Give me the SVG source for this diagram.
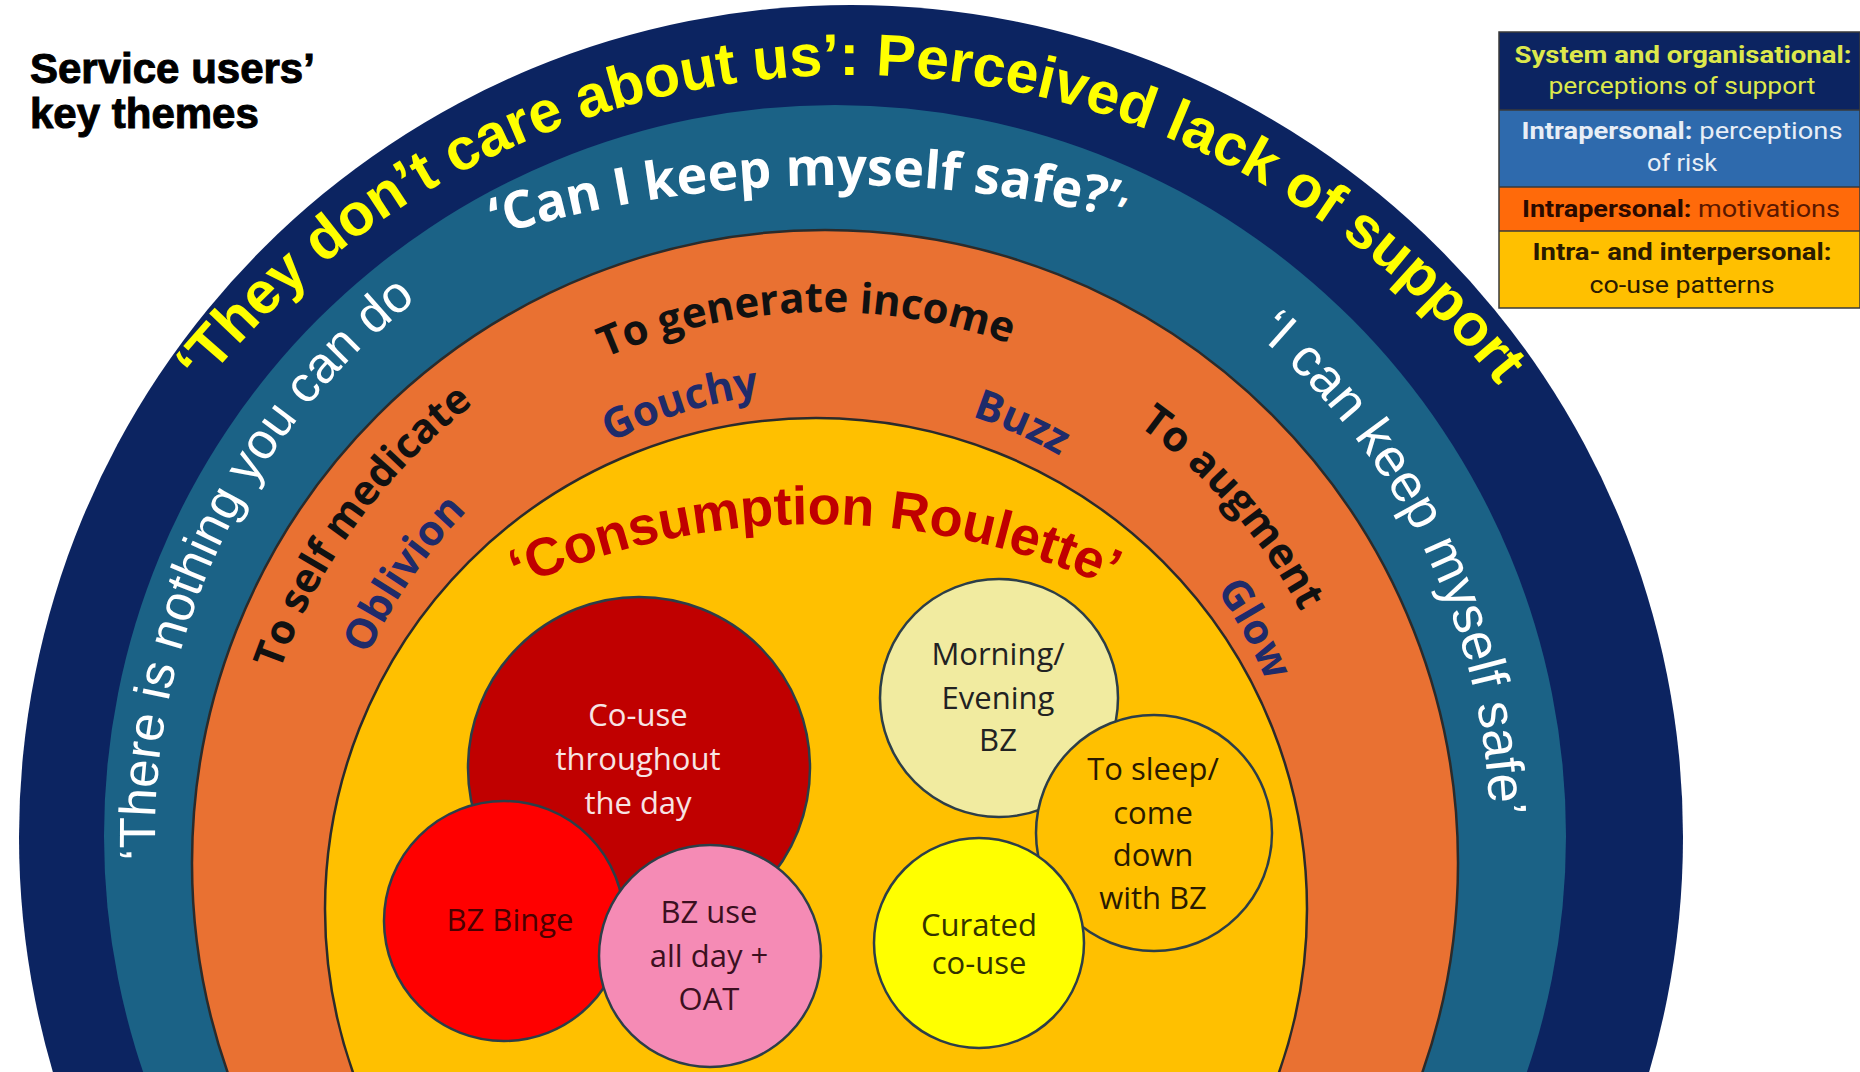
<svg xmlns="http://www.w3.org/2000/svg" width="1860" height="1072" viewBox="0 0 1860 1072">
<style>
.ring-line{stroke:#2b2b2b;stroke-width:2.5}
.node{stroke:#2c3e48;stroke-width:2.5}
.yel{font-family:"Liberation Sans",Arial,sans-serif;font-weight:700;fill:#FFFF00}
.wht{font-family:"Liberation Sans",Arial,sans-serif;fill:#ffffff}
.wsb{font-family:"Open Sans","Noto Sans",sans-serif;font-weight:700;fill:#ffffff}
.mot{font-family:"Open Sans","Noto Sans",sans-serif;font-weight:700;fill:#111111}
.nav{font-family:"Open Sans","Noto Sans",sans-serif;font-weight:700;fill:#1f2b6a}
.cr{font-family:"Liberation Sans",Arial,sans-serif;font-weight:700;fill:#C00000}
.ct{font-family:"Open Sans","Noto Sans",sans-serif;font-size:31px;text-anchor:middle}
.leg{font-family:"Roboto","Liberation Sans",sans-serif;font-size:23px;text-anchor:middle}
.b{font-weight:700}
</style>
<defs>
<path id="pOuter" d="M132.2,490 A830,830 0 0,1 1569.8,490"/>
<path id="pCan" d="M213,361.9 A1200,1200 0 0,1 1412.6,330.4"/>
<path id="pNothing" d="M155.4,859.7 A680,680 0 0,1 602.4,197.0"/>
<path id="pICan" d="M1256.0,334.3 A655,655 0 0,1 1480.1,949.7"/>
<path id="pIncome" d="M338.5,604.3 A551,551 0 0,1 1292.3,571.0"/>
<path id="pGouchy" d="M364.2,760.8 A472,472 0 0,1 1143.9,515.0"/>
<path id="pBuzz" d="M549.4,482.3 A470,470 0 0,1 1292.5,814.7"/>
<path id="pAugment" d="M721.4,335.1 A538,538 0 0,1 1334.0,1037.3"/>
<path id="pGlow" d="M836.7,386.1 A477,477 0 0,1 1232.2,1111.5"/>
<path id="pMedicate" d="M297.0,1098.1 A578,578 0 0,1 885.4,288.2"/>
<path id="pOblivion" d="M371.9,1079.1 A502,502 0 0,1 864.4,362.6"/>
<path id="pRoulette" d="M191.5,884 A720,720 0 0,1 1438.5,884"/>
</defs>
<rect width="1860" height="1072" fill="#ffffff"/>

<g id="title">
<text x="30" y="83" font-family="Liberation Sans,Arial,sans-serif" font-weight="700" font-size="42" fill="#000" stroke="#000" stroke-width="1">Service users’</text>
<text x="30" y="128" font-family="Liberation Sans,Arial,sans-serif" font-weight="700" font-size="42" fill="#000" stroke="#000" stroke-width="1">key themes</text>
</g>

<g id="ring-system">
<circle cx="851" cy="837" r="832" fill="#0c2461"/>
<text class="yel" font-size="59"><textPath href="#pOuter" startOffset="50%" text-anchor="middle">‘They don’t care about us’: Perceived lack of support</textPath></text>
</g>

<g id="ring-risk">
<circle cx="835" cy="836" r="731" fill="#1b6286"/>
<text class="wsb" font-size="52"><textPath href="#pCan" startOffset="50%" text-anchor="middle">‘Can I keep myself safe?’<tspan font-size="40" dy="8">’</tspan></textPath></text>
<text class="wht" font-size="51"><textPath href="#pNothing" startOffset="0">‘There is nothing you can do</textPath></text>
<text class="wht" font-size="53"><textPath href="#pICan" startOffset="0">‘I can keep myself safe’</textPath></text>
</g>

<g id="ring-motivations">
<circle class="ring-line" cx="825" cy="863" r="633" fill="#E97132"/>
<text class="mot" font-size="42"><textPath href="#pIncome" startOffset="50%" text-anchor="middle">To generate income</textPath></text>
<text class="mot" font-size="41"><textPath href="#pMedicate" startOffset="50%" text-anchor="middle">To self medicate</textPath></text>
<text class="mot" font-size="42"><textPath href="#pAugment" startOffset="50%" text-anchor="middle">To augment</textPath></text>
<text class="nav" font-size="42"><textPath href="#pGouchy" startOffset="50%" text-anchor="middle">Gouchy</textPath></text>
<text class="nav" font-size="42"><textPath href="#pBuzz" startOffset="50%" text-anchor="middle">Buzz</textPath></text>
<text class="nav" font-size="42"><textPath href="#pOblivion" startOffset="50%" text-anchor="middle">Oblivion</textPath></text>
<text class="nav" font-size="42"><textPath href="#pGlow" startOffset="50%" text-anchor="middle">Glow</textPath></text>
</g>

<g id="ring-couse">
<circle class="ring-line" cx="816" cy="909" r="491" fill="#FFC000"/>
<text class="cr" font-size="54"><textPath href="#pRoulette" startOffset="50%" text-anchor="middle">‘Consumption Roulette’</textPath></text>
</g>

<g id="node-couse-day">
<circle class="node" cx="639" cy="768" r="171" fill="#C00000"/>
<text class="ct" fill="#f7e4e4"><tspan x="638" y="726">Co-use</tspan><tspan x="638" y="770">throughout</tspan><tspan x="638" y="814">the day</tspan></text>
</g>
<g id="node-bz-binge">
<circle class="node" cx="504" cy="921" r="120" fill="#FF0000"/>
<text class="ct" fill="#4a0000" x="510" y="931">BZ Binge</text>
</g>
<g id="node-bz-oat">
<circle class="node" cx="710" cy="956" r="111" fill="#F58BB5"/>
<text class="ct" fill="#3b1020"><tspan x="709" y="923">BZ use</tspan><tspan x="709" y="967">all day +</tspan><tspan x="709" y="1010">OAT</tspan></text>
</g>
<g id="node-morning">
<circle class="node" cx="999" cy="698" r="119" fill="#F1EBA0"/>
<text class="ct" fill="#222222"><tspan x="998" y="665">Morning/</tspan><tspan x="998" y="709">Evening</tspan><tspan x="998" y="751">BZ</tspan></text>
</g>
<g id="node-sleep">
<circle class="node" cx="1154" cy="833" r="118" fill="#FFC000"/>
<text class="ct" fill="#2a1a00"><tspan x="1153" y="780">To sleep/</tspan><tspan x="1153" y="824">come</tspan><tspan x="1153" y="866">down</tspan><tspan x="1153" y="909">with BZ</tspan></text>
</g>
<g id="node-curated">
<circle class="node" cx="979" cy="943" r="105" fill="#FFFF00"/>
<text class="ct" fill="#333300"><tspan x="979" y="936">Curated</tspan><tspan x="979" y="974">co-use</tspan></text>
</g>

<g id="connectors"/>

<g id="legend">
<rect x="1499" y="32" width="361" height="78" fill="#0c2461"/>
<rect x="1499" y="110" width="361" height="77" fill="#2e6aad"/>
<rect x="1499" y="187" width="361" height="44" fill="#FF6A0A"/>
<rect x="1499" y="231" width="361" height="77" fill="#FFC000"/>
<g stroke="#3a3a3a" stroke-width="1.5" fill="none">
<rect x="1499" y="32" width="361" height="276"/>
<line x1="1499" y1="110" x2="1860" y2="110"/>
<line x1="1499" y1="187" x2="1860" y2="187"/>
<line x1="1499" y1="231" x2="1860" y2="231"/>
</g>
<text class="leg b" fill="#dde84c" x="1683" y="63" textLength="337" lengthAdjust="spacingAndGlyphs">System and organisational:</text>
<text class="leg" fill="#dde84c" x="1682" y="94" textLength="267" lengthAdjust="spacingAndGlyphs">perceptions of support</text>
<text class="leg" fill="#e8eef6" x="1682" y="139" textLength="321" lengthAdjust="spacingAndGlyphs"><tspan class="b">Intrapersonal:</tspan> perceptions</text>
<text class="leg" fill="#e8eef6" x="1682" y="171" textLength="70" lengthAdjust="spacingAndGlyphs">of risk</text>
<text class="leg" fill="#5a1800" x="1681" y="217" textLength="318" lengthAdjust="spacingAndGlyphs"><tspan class="b" fill="#2a0a00">Intrapersonal:</tspan> motivations</text>
<text class="leg b" fill="#2a1a00" x="1682" y="260" textLength="299" lengthAdjust="spacingAndGlyphs">Intra- and interpersonal:</text>
<text class="leg" fill="#2a1a00" x="1682" y="293" textLength="185" lengthAdjust="spacingAndGlyphs">co-use patterns</text>
</g>
</svg>
